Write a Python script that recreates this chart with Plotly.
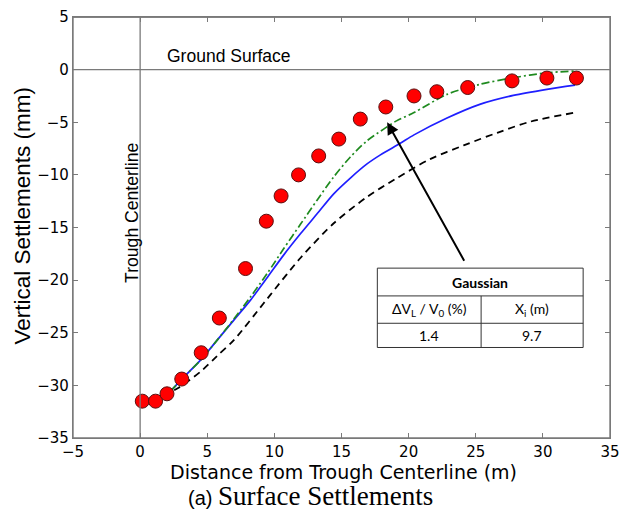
import plotly.graph_objects as go

# Measured settlements (red dots)
obs_x = [0.16, 1.15, 2.0, 3.1, 4.55, 5.9, 7.85, 9.4, 10.5, 11.8, 13.3, 14.8, 16.4, 18.3, 20.4, 22.1, 24.4, 27.7, 30.3, 32.5]
obs_y = [-31.5, -31.5, -30.8, -29.4, -26.9, -23.6, -18.9, -14.4, -12.0, -10.0, -8.2, -6.6, -4.7, -3.55, -2.5, -2.1, -1.7, -1.07, -0.8, -0.8]

# Blue solid curve
blue_x = [0, 0.8, 2.0, 3.1, 4.5, 5.74, 6.98, 8.22, 9.5, 10.7, 11.94, 13.18, 14.42, 15.66, 16.9, 17.9, 19.38, 20.4, 22.86, 25.3, 27.8, 30.3, 32.4]
blue_y = [-31.4, -31.2, -30.8, -29.4, -27.6, -25.7, -23.8, -21.9, -19.7, -17.6, -15.6, -13.7, -11.8, -10.3, -8.96, -8.1, -7.0, -6.2, -4.6, -3.3, -2.45, -1.87, -1.47]

# Green dash-dot curve
green_x = [0, 0.8, 2.0, 3.1, 4.5, 5.74, 6.98, 8.22, 9.5, 10.7, 11.94, 13.18, 14.42, 15.66, 16.9, 18.14, 19.1, 20.4, 22.86, 25.3, 27.8, 30.3, 32.3]
green_y = [-31.4, -31.2, -30.8, -29.4, -27.6, -25.7, -23.7, -21.6, -19.3, -17.0, -14.7, -12.4, -10.2, -8.3, -6.76, -5.65, -4.87, -4.08, -2.35, -1.4, -0.77, -0.3, -0.14]

# Black dashed curve
black_x = [0, 1.0, 2.0, 2.9, 4.5, 5.74, 6.98, 9.2, 9.7, 11.94, 14.42, 16.9, 19.0, 21.6, 24.1, 26.6, 29.05, 32.4]
black_y = [-31.5, -31.3, -30.8, -30.2, -28.7, -27.2, -25.7, -22.2, -21.4, -17.9, -14.6, -12.1, -10.4, -8.5, -7.2, -6.0, -4.95, -4.08]

x_ticks = [-5, 0, 5, 10, 15, 20, 25, 30, 35]
y_ticks = [5, 0, -5, -10, -15, -20, -25, -30, -35]

table_header = "Gaussian"
table_cols = ["ΔV<sub>L</sub> / V<sub>0</sub> (%)", "X<sub>i</sub> (m)"]
table_vals = ["1.4", "9.7"]

SANS = "Liberation Sans, Arial"
WIDE = "DejaVu Sans, Liberation Sans"

fig = go.Figure()

fig.add_trace(go.Scatter(x=black_x, y=black_y, mode="lines",
                         line=dict(color="black", width=1.8, dash="7px,5px", shape="spline", smoothing=0.8),
                         showlegend=False))
fig.add_trace(go.Scatter(x=blue_x, y=blue_y, mode="lines",
                         line=dict(color="#1f1fff", width=1.7, shape="spline", smoothing=0.8), showlegend=False))
fig.add_trace(go.Scatter(x=green_x, y=green_y, mode="lines",
                         line=dict(color="#1e8a1e", width=1.7, dash="8px,3px,2px,3px", shape="spline", smoothing=0.8),
                         showlegend=False))
fig.add_trace(go.Scatter(x=obs_x, y=obs_y, mode="markers",
                         marker=dict(color="#ff0000", size=14, line=dict(color="#5a1010", width=1)),
                         showlegend=False))

grey = "#7a7a7a"
# frame and reference lines
fig.add_shape(type="rect", xref="paper", yref="paper", x0=0, x1=1, y0=0, y1=1,
              line=dict(color=grey, width=1.4), layer="above")
fig.add_shape(type="line", xref="paper", yref="y", x0=0, x1=1, y0=5, y1=5,
              line=dict(color=grey, width=1.6), layer="above")
fig.add_shape(type="line", x0=-5, x1=35, y0=0, y1=0, line=dict(color=grey, width=1.3))
fig.add_shape(type="line", x0=0, x1=0, y0=-35, y1=5, line=dict(color=grey, width=1.3))

fig.add_annotation(x=1.85, y=0.2, text="Ground Surface", showarrow=False, xanchor="left", yanchor="bottom",
                   font=dict(family=SANS, size=17.5, color="black"))
fig.add_annotation(x=0.3, y=-13.6, text="Trough Centerline", showarrow=False, textangle=-90,
                   xanchor="right", yanchor="middle",
                   font=dict(family=SANS, size=17.6, color="black"))

# arrow
fig.add_annotation(x=18.4, y=-5.0, ax=24.2, ay=-18.3, xref="x", yref="y", axref="x", ayref="y",
                   text="", showarrow=True, arrowhead=2, arrowsize=1.2, arrowwidth=2, arrowcolor="black")

# table
tx0, tx1, tmid = 17.67, 33.0, 25.4
ty0, ty1, ty2, ty3 = -18.86, -21.5, -24.1, -26.4
tline = dict(color="#333333", width=1)
fig.add_shape(type="rect", x0=tx0, x1=tx1, y0=ty3, y1=ty0, line=tline, fillcolor="white", layer="above")
fig.add_shape(type="line", x0=tx0, x1=tx1, y0=ty1, y1=ty1, line=tline, layer="above")
fig.add_shape(type="line", x0=tx0, x1=tx1, y0=ty2, y1=ty2, line=tline, layer="above")
fig.add_shape(type="line", x0=tmid, x1=tmid, y0=ty3, y1=ty1, line=tline, layer="above")
tfont = dict(family="Lato, Open Sans", size=14, color="black")
fig.add_annotation(x=(tx0 + tx1) / 2, y=(ty0 + ty1) / 2, text="<b>" + table_header + "</b>", showarrow=False, font=tfont)
fig.add_annotation(x=(tx0 + tmid) / 2, y=(ty1 + ty2) / 2, text=table_cols[0], showarrow=False, font=tfont)
fig.add_annotation(x=(tmid + tx1) / 2, y=(ty1 + ty2) / 2, text=table_cols[1], showarrow=False, font=tfont)
fig.add_annotation(x=(tx0 + tmid) / 2, y=(ty2 + ty3) / 2, text=table_vals[0], showarrow=False, font=tfont)
fig.add_annotation(x=(tmid + tx1) / 2, y=(ty2 + ty3) / 2, text=table_vals[1], showarrow=False, font=tfont)

# axis titles (as annotations for exact placement)
fig.add_annotation(x=0.5, y=0, xref="paper", yref="paper", yshift=-34, xshift=1.5, showarrow=False,
                   yanchor="middle", text="Distance from Trough Centerline (m)",
                   font=dict(family=WIDE, size=19, color="black"))
fig.add_annotation(x=0, y=0.5, xref="paper", yref="paper", xshift=-51, yshift=12, showarrow=False,
                   xanchor="center", yanchor="middle", textangle=-90, text="Vertical Settlements (mm)",
                   font=dict(family=SANS, size=22.5, color="black"))

# caption
fig.add_annotation(x=0.5, y=0, xref="paper", yref="paper", yshift=-58, xshift=-31, showarrow=False,
                   yanchor="middle",
                   text='(a) <span style="font-family:Liberation Serif, Times New Roman; font-size:27px">Surface Settlements</span>',
                   font=dict(family=SANS, size=20, color="black"))

axis_common = dict(showgrid=False, zeroline=False, showline=True, linecolor=grey, linewidth=1.3,
                   mirror="ticks", ticks="inside", ticklen=5, tickcolor=grey, tickwidth=1,
                   automargin=False, ticklabeloverflow="allow",
                   tickfont=dict(family=WIDE, size=15, color="black"))

# page body has an 8px default margin, so the figure is sized to fit the window after that offset
fig.update_layout(
    width=621, height=508,
    margin=dict(l=65, r=19, t=9, b=78),
    paper_bgcolor="white", plot_bgcolor="white",
    xaxis=dict(range=[-5, 35], tickvals=x_ticks, **axis_common),
    yaxis=dict(range=[-35, 5], tickvals=y_ticks, ticktext=[str(v).replace("-", "\u2212") for v in y_ticks],
               **axis_common),
)

fig.write_html("out.html")
